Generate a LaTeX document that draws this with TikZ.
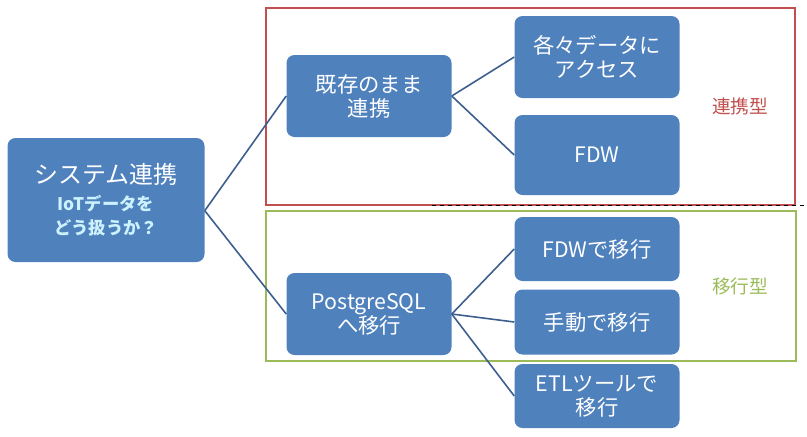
\documentclass[tikz,border=0pt]{standalone}
\usepackage{fontspec}
\setmainfont{Noto Sans CJK JP}
\usetikzlibrary{positioning}
\definecolor{boxblue}{HTML}{4F81BD}
\definecolor{edgeblue}{HTML}{3D5F8F}
\definecolor{groupred}{HTML}{C0504D}
\definecolor{groupgreen}{HTML}{9BBB59}
\definecolor{subcyan}{HTML}{CCF2FF}
\newcommand{\subline}[1]{\textcolor{subcyan}{\bfseries\fontsize{13}{17}\selectfont #1}}

\begin{document}
\begin{tikzpicture}[x=0.75pt,y=-0.75pt]

\tikzstyle{item} = [rectangle, rounded corners=6pt, fill=boxblue, text=white, align=center, inner sep=0pt, font=\fontsize{16}{18}\selectfont]
\tikzstyle{link} = [draw=edgeblue, line width=1.2pt]
\tikzstyle{group} = [line width=1.8pt]

\useasboundingbox (0,0) rectangle (807,436);

%------------------------------------------------------------
	\draw[group, groupred] (266,8) rectangle (795,205);
	\draw[group, groupgreen] (266,211) rectangle (796,361);
	\draw[dashed, thin] (432,205) -- (807,205);
	\node[text=groupred, font=\fontsize{14}{16}\selectfont] (lblA) at (740,106) {連携型};
	\node[text=groupgreen, font=\fontsize{14}{16}\selectfont] (lblB) at (740,286) {移行型};

%------------------------------------------------------------
	\node[item, minimum width=197*0.75pt, minimum height=124*0.75pt] (root) at (106,200)
		{\fontsize{18}{22}\selectfont システム連携\\[2pt]
		\subline{IoTデータを}\\ \subline{どう扱うか？}};

%------------------------------------------------------------
	\node[item, minimum width=165*0.75pt, minimum height=82*0.75pt] (keep) at (369,96) {既存のまま\\連携};
	\node[item, minimum width=165*0.75pt, minimum height=82*0.75pt] (move) at (369,314) {PostgreSQL\\へ移行};

	\node[item, minimum width=165*0.75pt, minimum height=82*0.75pt] (access) at (597,57) {各々データに\\アクセス};
	\node[item, minimum width=165*0.75pt, minimum height=80*0.75pt] (fdw) at (597,155) {FDW};
	\node[item, minimum width=165*0.75pt, minimum height=64*0.75pt] (fdwmove) at (597,249) {FDWで移行};
	\node[item, minimum width=165*0.75pt, minimum height=65*0.75pt] (manual) at (597,322) {手動で移行};
	\node[item, minimum width=165*0.75pt, minimum height=64*0.75pt] (etl) at (597,396) {ETLツールで\\移行};

%------------------------------------------------------------
	\path[link] ([yshift=-8pt]root.east) -- (keep.west);
	\path[link] ([yshift=-8pt]root.east) -- (move.west);
	\path[link] (keep.east) -- (access.west);
	\path[link] (keep.east) -- (fdw.west);
	\path[link] (move.east) -- (fdwmove.west);
	\path[link] (move.east) -- (manual.west);
	\path[link] (move.east) -- (etl.west);

\end{tikzpicture}
\end{document}
